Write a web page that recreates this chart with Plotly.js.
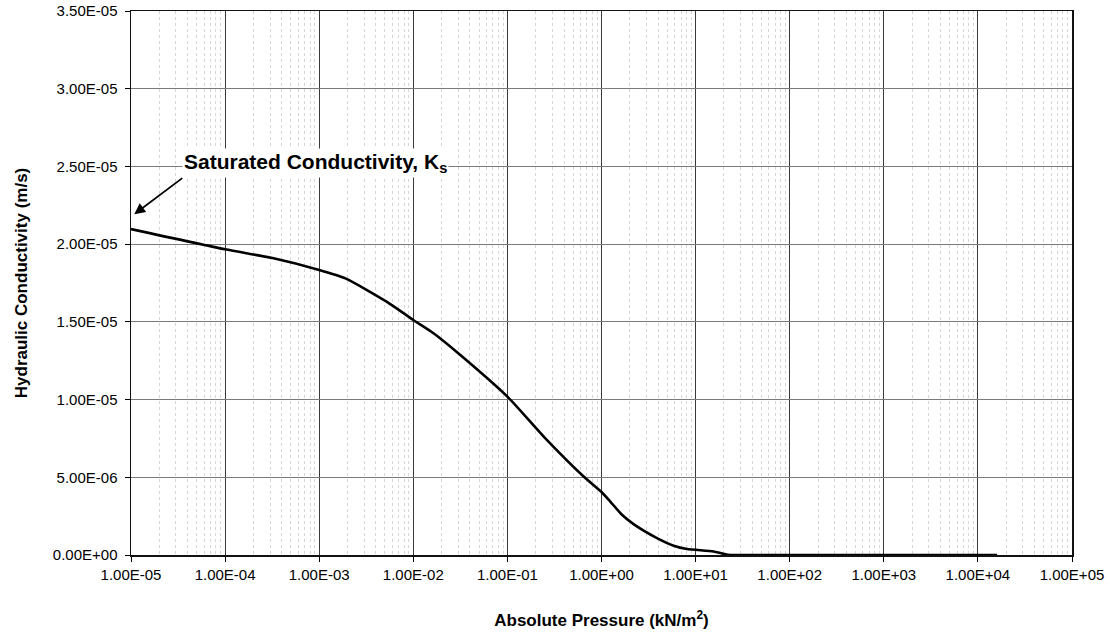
<!DOCTYPE html>
<html>
<head>
<meta charset="utf-8">
<script src="https://cdn.plot.ly/plotly-3.0.1.min.js"></script>
<style>html,body{margin:0;padding:0;background:#fff;}#chart{width:1110px;height:636px;}</style>
</head>
<body>
<div id="chart"></div>
<script>
// Absolute pressure (kN/m^2)
const pressure = [1e-5, 1e-4, 3.27e-4, 1e-3, 1.9e-3, 5.2e-3, 1e-2, 1.64e-2, 3.16e-2, 1e-1, 0.243, 0.646, 1.0, 1.24, 1.65, 2.19, 3.89, 5.84, 8.1, 15.5, 22, 100, 1000, 10000, 16000];
// Hydraulic conductivity (m/s)
const conductivity = [2.097e-5, 1.967e-5, 1.909e-5, 1.834e-5, 1.78e-5, 1.63e-5, 1.512e-5, 1.427e-5, 1.287e-5, 1.019e-5, 0.762e-5, 0.505e-5, 0.405e-5, 0.344e-5, 0.259e-5, 0.199e-5, 0.109e-5, 0.06e-5, 0.0385e-5, 0.023e-5, 0.002e-5, 0, 0, 0, 0];

const xTickVals = [1e-5, 1e-4, 1e-3, 1e-2, 1e-1, 1e0, 1e1, 1e2, 1e3, 1e4, 1e5];
const xTickText = ["1.00E-05", "1.00E-04", "1.00E-03", "1.00E-02", "1.00E-01", "1.00E+00", "1.00E+01", "1.00E+02", "1.00E+03", "1.00E+04", "1.00E+05"];
const yTickVals = [0, 5e-6, 1e-5, 1.5e-5, 2e-5, 2.5e-5, 3e-5, 3.5e-5];
const yTickText = ["0.00E+00", "5.00E-06", "1.00E-05", "1.50E-05", "2.00E-05", "2.50E-05", "3.00E-05", "3.50E-05"];

const minorVals = [];
for (let e = -5; e < 5; e++) for (let m = 2; m <= 9; m++) minorVals.push(m * Math.pow(10, e));

const FONT = "Liberation Sans, Arial, sans-serif";

const trace = {
  x: pressure, y: conductivity, type: "scatter", mode: "lines",
  line: {color: "#000", width: 2.6, shape: "spline", smoothing: 0.6}, hoverinfo: "skip", showlegend: false
};

const layout = {
  width: 1110, height: 636,
  margin: {l: 131, r: 38, t: 11, b: 81},
  paper_bgcolor: "#fff", plot_bgcolor: "#fff",
  font: {family: FONT, color: "#000", size: 15},
  showlegend: false,
  xaxis: {
    type: "log", range: [-5, 5],
    tickmode: "array", tickvals: xTickVals, ticktext: xTickText,
    ticks: "outside", ticklen: 5, tickcolor: "#000",
    tickfont: {size: 15},
    showgrid: true, gridcolor: "#3a3a3a", gridwidth: 1,
    showline: true, linecolor: "#111", linewidth: 1.5, mirror: true,
    zeroline: false,
    minor: {tickmode: "array", tickvals: minorVals, showgrid: true, gridcolor: "#d6d6d6", griddash: "dot", gridwidth: 1, ticks: ""},
    title: {text: "<b>Absolute Pressure (kN/m<sup>2</sup>)</b>", font: {size: 17}, standoff: 32}
  },
  yaxis: {
    range: [0, 3.5e-5],
    tickmode: "array", tickvals: yTickVals, ticktext: yTickText,
    ticks: "outside", ticklen: 5, tickcolor: "#000",
    tickfont: {size: 15}, ticklabelstandoff: 4,
    showgrid: true, gridcolor: "#7a7a7a", gridwidth: 1,
    showline: true, linecolor: "#111", linewidth: 1.5, mirror: true,
    zeroline: false,
    title: {text: "<b>Hydraulic Conductivity (m/s)</b>", font: {size: 17}, standoff: 21}
  },
  annotations: [{
    x: -4.965, y: 2.193e-5, xref: "x", yref: "y",
    text: "<b>Saturated Conductivity, K<sub>s</sub></b>",
    font: {size: 21, color: "#000"},
    showarrow: true, arrowhead: 2, arrowsize: 1.2, arrowwidth: 1.8, arrowcolor: "#000",
    ax: 48, ay: -36, xanchor: "left", yanchor: "bottom",
    bgcolor: "#fff"
  }]
};

Plotly.newPlot("chart", [trace], layout, {displayModeBar: false, staticPlot: true});
</script>
</body>
</html>
